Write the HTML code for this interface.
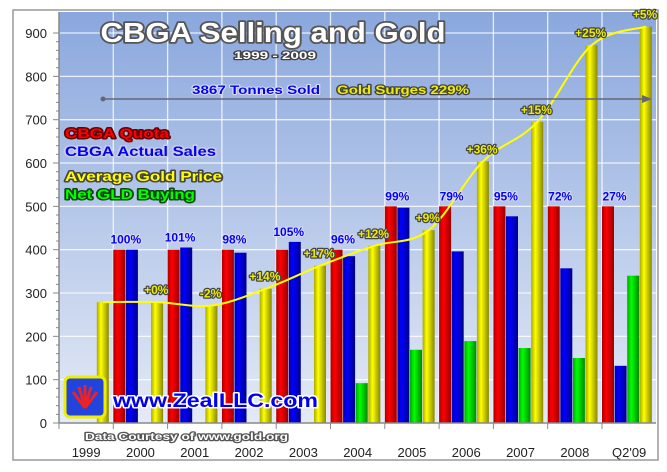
<!DOCTYPE html>
<html><head><meta charset="utf-8"><style>
html,body{margin:0;padding:0;background:#fff;}
svg{display:block;font-family:"Liberation Sans",sans-serif;}
.out{paint-order:stroke;stroke-linejoin:round;font-weight:bold;}
</style></head><body>
<svg id="c" width="667" height="472">
<defs>
<linearGradient id="bg" x1="0" y1="0" x2="0" y2="1"><stop offset="0" stop-color="#8aa7dd"/><stop offset="1" stop-color="#e4eaf6"/></linearGradient>
<linearGradient id="gR" x1="0" x2="1"><stop offset="0" stop-color="#a00"/><stop offset="0.35" stop-color="#f00"/><stop offset="1" stop-color="#900"/></linearGradient>
<linearGradient id="gB" x1="0" x2="1"><stop offset="0" stop-color="#00a"/><stop offset="0.35" stop-color="#00f"/><stop offset="1" stop-color="#008"/></linearGradient>
<linearGradient id="gG" x1="0" x2="1"><stop offset="0" stop-color="#0a0"/><stop offset="0.35" stop-color="#0f0"/><stop offset="1" stop-color="#080"/></linearGradient>
<linearGradient id="gY" x1="0" x2="1"><stop offset="0" stop-color="#aa0"/><stop offset="0.35" stop-color="#ff0"/><stop offset="1" stop-color="#880"/></linearGradient>
</defs>
<rect x="13" y="10" width="645" height="450" fill="#fff" stroke="#999" stroke-width="1.5"/>
<rect x="59" y="12" width="597" height="411" fill="url(#bg)"/>
<g id="grid"></g>
<g id="bars"></g>
<path id="goldLine" fill="none" stroke="#ff0" stroke-width="2"/>
<g id="labels"></g>
<g id="axes"></g>
<line x1="103" y1="99" x2="644" y2="99" stroke="#667" stroke-width="1.5"/>
<circle cx="103" cy="99" r="2.5" fill="#667"/>
<polygon points="652,99 642,95 642,103" fill="#667"/>
<text x="273" y="42" text-anchor="middle" font-size="28" fill="#fff" stroke="#555" stroke-width="3.5" class="out" textLength="345" lengthAdjust="spacingAndGlyphs">CBGA Selling and Gold</text>
<text x="275" y="59" text-anchor="middle" font-size="11" fill="#fff" stroke="#444" stroke-width="2.5" class="out" textLength="82" lengthAdjust="spacingAndGlyphs">1999 - 2009</text>
<text x="192" y="94" font-size="12" fill="#00f" stroke="#dde" stroke-width="2" class="out" textLength="128" lengthAdjust="spacingAndGlyphs">3867 Tonnes Sold</text>
<text x="337" y="94" font-size="12" fill="#ee0" stroke="#444" stroke-width="2.5" class="out" textLength="132" lengthAdjust="spacingAndGlyphs">Gold Surges 229%</text>
<g font-size="14" class="out" stroke-width="3">
<text x="65" y="138" fill="#f00" stroke="#600" textLength="104" lengthAdjust="spacingAndGlyphs">CBGA Quota</text>
<text x="65" y="156" fill="#00f" stroke="#ccd" textLength="151" lengthAdjust="spacingAndGlyphs">CBGA Actual Sales</text>
<text x="65" y="181" fill="#ff0" stroke="#444" textLength="157" lengthAdjust="spacingAndGlyphs">Average Gold Price</text>
<text x="65" y="199" fill="#0f0" stroke="#141" textLength="130" lengthAdjust="spacingAndGlyphs">Net GLD Buying</text>
</g>
<g>
<rect x="65" y="377" width="40" height="40" rx="5" fill="#2244dd" stroke="#ee0" stroke-width="3"/>
<path d="M85 408 L73 392 M85 408 L79 387 M85 408 L85 385 M85 408 L91 387 M85 408 L97 392" stroke="#e22" stroke-width="3"/>
<text x="113" y="407" font-size="19" fill="#00e" stroke="#fff" stroke-width="3" class="out" textLength="205" lengthAdjust="spacingAndGlyphs">www.ZealLLC.com</text>
</g>
<text x="85" y="440" font-size="10.5" fill="#fff" stroke="#555" stroke-width="2.5" class="out" textLength="203" lengthAdjust="spacingAndGlyphs">Data Courtesy of www.gold.org</text>
</svg>
<script>
const categories=["1999","2000","2001","2002","2003","2004","2005","2006","2007","2008","Q2'09"];
const quota=[null,400,400,400,400,400,500,500,500,500,500];
const actual=[null,400,405,393,418,385,497,396,477,357,132];
const gld=[null,null,null,null,null,92,169,189,173,150,340];
const gold=[279,279,271,310,363,409,445,604,695,872,915];
const pctLabels=["","100%","101%","98%","105%","96%","99%","79%","95%","72%","27%"];
const goldChange=["","+0%","-2%","+14%","+17%","+12%","+9%","+36%","+15%","+25%","+5%"];
const yTicks=[0,100,200,300,400,500,600,700,800,900];
const X0=59,CW=54.3,Y0=423,SC=0.4333;
const y=v=>Y0-v*SC;
const cx=i=>X0+i*CW;
const NS="http://www.w3.org/2000/svg";
function mk(tag,attrs,parent,txt){const e=document.createElementNS(NS,tag);for(const k in attrs)e.setAttribute(k,attrs[k]);if(txt!=null)e.textContent=txt;parent.appendChild(e);return e;}
const grid=document.getElementById('grid'),bars=document.getElementById('bars'),labels=document.getElementById('labels'),axes=document.getElementById('axes');
yTicks.forEach(t=>{
  const l=mk('line',{x1:X0,x2:656,y1:y(t),y2:y(t),stroke:'#fff','stroke-width':1.3,opacity:0.8},grid);
  
  
  const tl=mk('text',{x:47,y:y(t)+5,'text-anchor':'end','font-size':13,fill:'#222'},axes,t);
  
  
  mk('line',{x1:X0-6,x2:X0,y1:y(t),y2:y(t),stroke:'#888'},axes);
  for(let m=1;m<5&&t<900;m++)mk('line',{x1:X0-3,x2:X0,y1:y(t+m*20),y2:y(t+m*20),stroke:'#888'},axes);
});
categories.forEach((c,i)=>{
  if(i>0){const g=mk('line',{x1:cx(i),x2:cx(i),y1:12,y2:Y0,stroke:'#fff','stroke-width':1.3,opacity:0.8},grid);
  
  }
  mk('line',{x1:cx(i),x2:cx(i),y1:Y0,y2:Y0+6,stroke:'#888'},axes);
  const t=mk('text',{x:cx(i)+CW/2,y:457,'text-anchor':'middle','font-size':13,fill:'#222'},axes,c);
  
  
  const series=[[quota,'gR','quota-bar'],[actual,'gB','actual-sales-bar'],[gld,'gG','gld-bar'],[gold,'gY','gold-price-bar']];
  series.forEach((s,k)=>{
    const v=s[0][i];if(v==null)return;
    const r=mk('rect',{x:cx(i)+k*12.6,y:y(v),width:12,height:v*SC,fill:'url(#'+s[1]+')'},bars);
    
    
  });
  if(pctLabels[i]){const top=Math.max(quota[i],actual[i]);
    const p=mk('text',{x:cx(i)+12.5,y:y(top)-6,'text-anchor':'middle','font-size':12,fill:'#00f',stroke:'#dde','stroke-width':2,class:'out'},labels,pctLabels[i]);
    
    }
  if(goldChange[i]){
    const p=mk('text',{x:cx(i)+43,y:y(gold[i])-8,'text-anchor':'middle','font-size':12,fill:'#ee0',stroke:'#444','stroke-width':2.5,class:'out'},labels,goldChange[i]);
    
    }
});
mk('line',{x1:X0,x2:X0,y1:12,y2:Y0,stroke:'#888','stroke-width':1.5},axes);
mk('line',{x1:X0,x2:656,y1:Y0,y2:Y0,stroke:'#888','stroke-width':1.5},axes);
const pts=gold.map((v,i)=>[cx(i)+44,y(v)]);
let d='M'+pts[0][0]+','+pts[0][1];
for(let i=0;i<pts.length-1;i++){const p0=pts[Math.max(i-1,0)],p1=pts[i],p2=pts[i+1],p3=pts[Math.min(i+2,pts.length-1)];
d+=' C'+(p1[0]+(p2[0]-p0[0])/6)+','+(p1[1]+(p2[1]-p0[1])/6)+' '+(p2[0]-(p3[0]-p1[0])/6)+','+(p2[1]-(p3[1]-p1[1])/6)+' '+p2[0]+','+p2[1];}
document.getElementById('goldLine').setAttribute('d',d);
</script>
</body></html>
